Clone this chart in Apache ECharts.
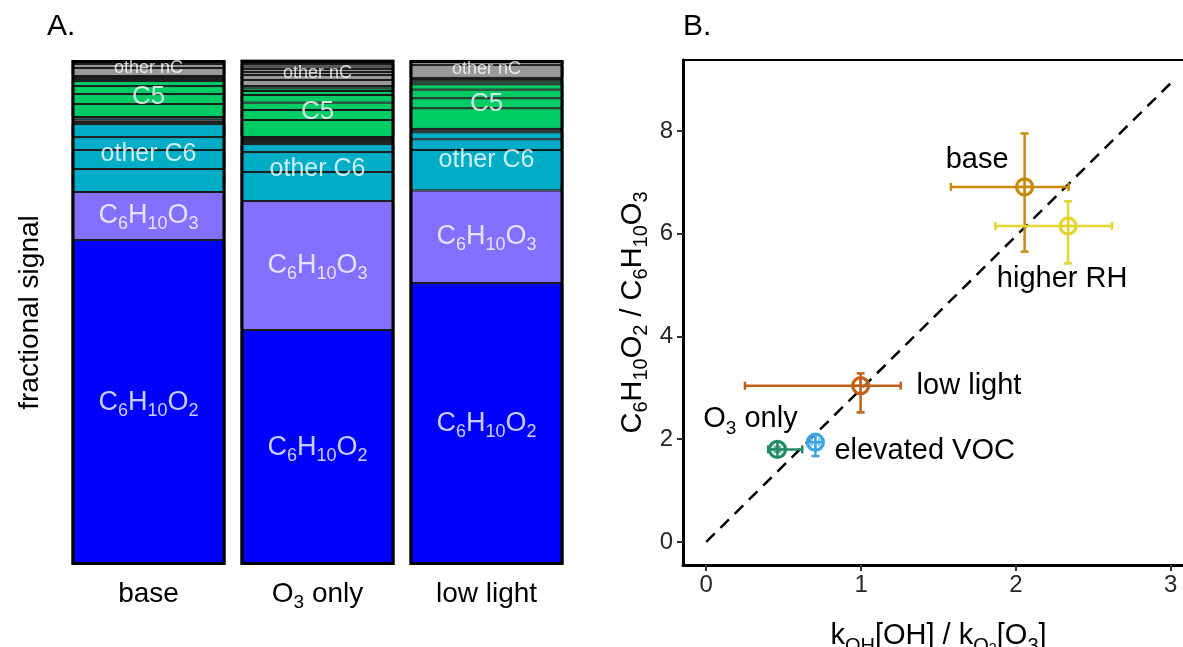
<!DOCTYPE html>
<html lang="en">
<head>
    <meta charset="utf-8">
    <title>fractional signal / ratio</title>
    <script src="https://cdn.jsdelivr.net/npm/echarts@6.0.0/dist/echarts.min.js"></script>
    <style>
        html, body { margin: 0; padding: 0; background: #fff; }
        #chart { width: 1183px; height: 647px; }
    </style>
</head>
<body>
<div id="chart"></div>

<script type="text/javascript">
    // ---- panel A: stacked fractional signal, one entry per bar ----
    var barCats = ['base', 'O3 only', 'low light'];
    var c6h10o2 = [0.6436, 0.4653, 0.5584];
    var c6h10o3 = [0.0950, 0.2554, 0.1832];
    // thin sub-layers inside each group, listed bottom -> top
    var otherC6Layers = [
        [0.0455, 0.0376, 0.0257, 0.0257, 0.0040, 0.0030, 0.0040, 0.0030],
        [0.0574, 0.0396, 0.0158, 0.0040, 0.0040, 0.0040, 0.0020],
        [0.0802, 0.0212, 0.0139, 0.0040, 0.0026]
    ];
    var c5Layers = [
        [0.0257, 0.0198, 0.0158, 0.0099, 0.0040, 0.0040, 0.0020],
        [0.0337, 0.0198, 0.0145, 0.0152, 0.0079, 0.0053, 0.0046],
        [0.0410, 0.0198, 0.0170, 0.0107, 0.0051, 0.0028, 0.0026, 0.0020]
    ];
    var otherNCLayers = [
        [0.0158, 0.0079, 0.0079],
        [0.0119, 0.0099, 0.0059, 0.0059, 0.0050, 0.0050, 0.0020, 0.0020, 0.0014, 0.0014, 0.0012],
        [0.0257, 0.0099]
    ];

    // ---- panel B: C6H10O2 / C6H10O3 vs kOH[OH] / kO3[O3] ----
    var condNames = ['base', 'higher RH', 'low light', 'O3 only', 'elevated VOC'];
    var ratioX   = [2.056, 2.337, 0.997, 0.460, 0.705];
    var ratioXLo = [1.580, 1.868, 0.250, 0.400, 0.680];
    var ratioXHi = [2.340, 2.620, 1.256, 0.620, 0.730];
    var ratioY   = [6.91, 6.15, 3.04, 1.80, 1.94];
    var ratioYLo = [5.65, 5.42, 2.52, 1.75, 1.67];
    var ratioYHi = [7.95, 6.63, 3.28, 1.85, 2.08];
    var refLineX = [0, 3];
    var refLineY = [0, 8.93];
    var xTicks = [0, 1, 2, 3];
    var yTicks = [0, 2, 4, 6, 8];

    var FONT = '"Liberation Sans", Arial, sans-serif';
    var condColors = ['#C98A0C', '#E4D52E', '#C2601A', '#1F8B67', '#3CA6E2'];
    // where each point label sits, relative to its marker
    var condLabelPos = {
        'base':         {dx: -16, dy: -27, align: 'right'},
        'higher RH':    {dx: -6,  dy: 53,  align: 'center'},
        'low light':    {dx: 56,  dy: 0,   align: 'left'},
        'O3 only':      {dx: -27, dy: -30, align: 'center'},
        'elevated VOC': {dx: 19,  dy: 9,   align: 'left'}
    };

    function richSet(size, sub, color) {
        var lh = size + 8;
        return {
            n: {fontSize: size, fontFamily: FONT, color: color, lineHeight: lh},
            s: {fontSize: sub, fontFamily: FONT, color: color, lineHeight: lh, verticalAlign: 'bottom'},
            ss: {fontSize: sub * 0.72, fontFamily: FONT, color: color, lineHeight: lh + 4, verticalAlign: 'bottom'}
        };
    }
    function chem(name) {
        if (name === 'C6H10O2') return '{n|C}{s|6}{n|H}{s|10}{n|O}{s|2}';
        if (name === 'C6H10O3') return '{n|C}{s|6}{n|H}{s|10}{n|O}{s|3}';
        if (name === 'O3 only') return '{n|O}{s|3}{n| only}';
        return '{n|' + name + '}';
    }

    var series = [];
    var borderStyle = {borderColor: '#1a1a1a', borderWidth: 1};

    function addStack(name, values, color) {
        series.push({
            name: name, type: 'bar', stack: 'sig', xAxisIndex: 0, yAxisIndex: 0,
            barWidth: 154, data: values, silent: true,
            itemStyle: Object.assign({color: color}, borderStyle)
        });
    }
    function addLayers(name, layers, color) {
        var n = Math.max.apply(null, layers.map(function (l) { return l.length; }));
        for (var i = 0; i < n; i++) {
            addStack(name + i, layers.map(function (l) {
                return l[i] !== undefined ? l[i] : '-';
            }), color);
        }
    }
    function sum(a) { return a.reduce(function (s, v) { return s + v; }, 0); }

    addStack('C6H10O2', c6h10o2, '#0000FF');
    addStack('C6H10O3', c6h10o3, '#8470FF');
    addLayers('other C6', otherC6Layers, '#00ADC6');
    addLayers('C5', c5Layers, '#00CC66');
    addLayers('other nC', otherNCLayers, '#999999');

    // black outline over each bar
    series.push({
        type: 'bar', xAxisIndex: 0, yAxisIndex: 0, barWidth: 154, barGap: '-100%',
        data: barCats.map(function () { return 1; }), silent: true, z: 5,
        itemStyle: {color: 'rgba(0,0,0,0)', borderColor: '#000', borderWidth: 3}
    });

    // group labels placed at the middle of each group
    var labelItems = [];
    barCats.forEach(function (cat, b) {
        var groups = [
            ['C6H10O2', c6h10o2[b], 27],
            ['C6H10O3', c6h10o3[b], 27],
            ['other C6', sum(otherC6Layers[b]), 25],
            ['C5', sum(c5Layers[b]), 26],
            ['other nC', sum(otherNCLayers[b]), 18]
        ];
        var base = 0;
        groups.forEach(function (g) {
            labelItems.push({
                value: [b, base + g[1] / 2],
                label: {formatter: chem(g[0]), rich: richSet(g[2], Math.round(g[2] * 0.68), '#fff')}
            });
            base += g[1];
        });
    });
    series.push({
        type: 'scatter', xAxisIndex: 0, yAxisIndex: 0, symbolSize: 1, silent: true, z: 6,
        itemStyle: {color: 'rgba(0,0,0,0)'},
        label: {show: true, position: 'inside'},
        data: labelItems
    });

    // panel B: dashed 1:1 line
    series.push({
        type: 'line', xAxisIndex: 1, yAxisIndex: 1, showSymbol: false, silent: true,
        data: refLineX.map(function (x, i) { return [x, refLineY[i]]; }),
        lineStyle: {color: '#000', width: 2.5, type: [12, 8]}
    });

    // panel B: markers with error bars and labels
    series.push({
        type: 'custom', xAxisIndex: 1, yAxisIndex: 1, silent: true, z: 4,
        data: condNames.map(function (n, i) {
            return [ratioX[i], ratioY[i], ratioXLo[i], ratioXHi[i], ratioYLo[i], ratioYHi[i]];
        }),
        renderItem: function (params, api) {
            var i = params.dataIndex;
            var col = condColors[i];
            var c = api.coord([api.value(0), api.value(1)]);
            var xl = api.coord([api.value(2), api.value(1)]);
            var xh = api.coord([api.value(3), api.value(1)]);
            var yl = api.coord([api.value(0), api.value(4)]);
            var yh = api.coord([api.value(0), api.value(5)]);
            var st = {stroke: col, lineWidth: 2.5, fill: 'none'};
            var cap = 4, r = 8;
            function ln(x1, y1, x2, y2) {
                return {type: 'line', shape: {x1: x1, y1: y1, x2: x2, y2: y2}, style: st};
            }
            var pos = condLabelPos[condNames[i]];
            return {
                type: 'group',
                children: [
                    ln(xl[0], c[1], xh[0], c[1]),
                    ln(xl[0], c[1] - cap, xl[0], c[1] + cap),
                    ln(xh[0], c[1] - cap, xh[0], c[1] + cap),
                    ln(c[0], yl[1], c[0], yh[1]),
                    ln(c[0] - cap, yl[1], c[0] + cap, yl[1]),
                    ln(c[0] - cap, yh[1], c[0] + cap, yh[1]),
                    {type: 'circle', shape: {cx: c[0], cy: c[1], r: r},
                        style: {stroke: col, lineWidth: 3.2, fill: 'rgba(255,255,255,0.35)'}},
                    ln(c[0] - r, c[1], c[0] + r, c[1]),
                    ln(c[0], c[1] - r, c[0], c[1] + r),
                    {type: 'text', x: c[0] + pos.dx, y: c[1] + pos.dy,
                        style: {text: chem(condNames[i]), align: pos.align, verticalAlign: 'middle',
                            rich: richSet(29, 19, '#000')}}
                ]
            };
        }
    });

    var tickLabelStyle = {fontSize: 24, fontFamily: FONT, color: '#262626'};
    var option = {
        animation: false,
        backgroundColor: '#fff',
        graphic: [
            {type: 'text', left: 47, top: 12, style: {text: 'A.', fontSize: 30, fontFamily: FONT, fill: '#000'}},
            {type: 'text', left: 683, top: 12, style: {text: 'B.', fontSize: 30, fontFamily: FONT, fill: '#000'}}
        ],
        grid: [
            {left: 64, top: 60, width: 507, height: 505, outerBoundsMode: 'none'},
            {left: 683, top: 60, width: 511, height: 505, outerBoundsMode: 'none',
                show: true, borderColor: '#000', borderWidth: 2, backgroundColor: 'rgba(0,0,0,0)'}
        ],
        xAxis: [
            {
                type: 'category', gridIndex: 0, data: barCats,
                axisLine: {show: false}, axisTick: {show: false},
                axisLabel: {margin: 11, formatter: function (v) { return chem(v); }, rich: richSet(28, 19, '#000')}
            },
            {
                type: 'value', gridIndex: 1, min: -0.15, max: 3.15,
                axisLine: {show: true, onZero: false, lineStyle: {color: '#000', width: 3}},
                axisTick: {show: true, customValues: xTicks, length: 6, lineStyle: {color: '#333', width: 2}},
                axisLabel: Object.assign({customValues: xTicks, margin: 8}, tickLabelStyle),
                splitLine: {show: false},
                name: '{n|k}{s|OH}{n|[OH] / k}{s|O}{ss|3}{n|[O}{s|3}{n|]}',
                nameLocation: 'middle', nameGap: 50,
                nameTextStyle: {rich: richSet(29, 20, '#000')}
            }
        ],
        yAxis: [
            {
                type: 'value', gridIndex: 0, min: 0, max: 1,
                axisLine: {show: false}, axisTick: {show: false}, axisLabel: {show: false},
                splitLine: {show: false},
                name: 'fractional signal', nameLocation: 'middle', nameGap: 20,
                nameTextStyle: {fontSize: 28, fontFamily: FONT, color: '#000'}
            },
            {
                type: 'value', gridIndex: 1, min: -0.45, max: 9.38,
                axisLine: {show: true, onZero: false, lineStyle: {color: '#000', width: 3}},
                axisTick: {show: true, customValues: yTicks, length: 6, lineStyle: {color: '#333', width: 2}},
                axisLabel: Object.assign({customValues: yTicks, margin: 10}, tickLabelStyle),
                splitLine: {show: false},
                name: '{n|C}{s|6}{n|H}{s|10}{n|O}{s|2}{n| / C}{s|6}{n|H}{s|10}{n|O}{s|3}',
                nameLocation: 'middle', nameGap: 32,
                nameTextStyle: {rich: richSet(29, 20, '#000')}
            }
        ],
        series: series
    };

    var myChart = echarts.init(document.getElementById('chart'));
    myChart.setOption(option);
</script>
</body>
</html>
